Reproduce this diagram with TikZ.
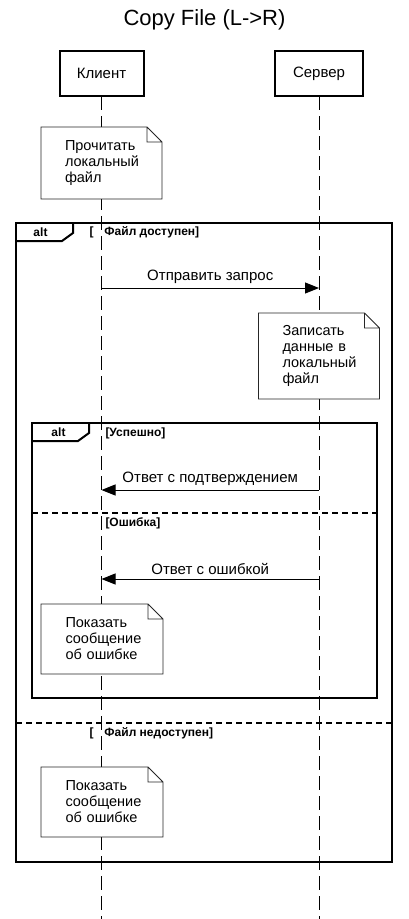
\documentclass[tikz,border=0pt]{standalone}
\usepackage{fontspec}
\setmainfont{Liberation Sans}
\usetikzlibrary{arrows.meta}

% folded-corner outline drawn around a note node
\newcommand\foldnote[1]{%
  \draw[noteline] (#1.north west) -- ([xshift=-15pt]#1.north east)
    -- ([yshift=-15pt]#1.north east) -- (#1.south east) -- (#1.south west) -- cycle
    ([xshift=-15pt]#1.north east) |- ([yshift=-15pt]#1.north east);}

\begin{document}
\begin{tikzpicture}[x=1pt,y=-1pt,
  every node/.style={inner sep=0pt, outer sep=0pt},
  participant/.style={draw, line width=2pt, minimum height=45pt, font=\fontsize{15}{17}\selectfont},
  lifeline/.style={line width=1pt, dash pattern=on 14pt off 6pt},
  message/.style={line width=1pt, -{Triangle[length=14pt,width=11pt]}},
  msglabel/.style={font=\fontsize{15}{17}\selectfont},
  notebox/.style={fill=white, minimum width=121pt, text width=73pt, inner xsep=24pt,
    inner ysep=0pt, align=left, font=\fontsize{14.5}{16}\selectfont},
  noteline/.style={line width=0.8pt, black!85},
  frame/.style={line width=2pt},
  separator/.style={line width=2pt, dash pattern=on 6pt off 4pt},
  guard/.style={font=\fontsize{12}{14}\selectfont\bfseries, anchor=west},
  optag/.style={font=\fontsize{12}{14}\selectfont\bfseries},
]
\useasboundingbox (0,0) rectangle (409,919);

% title
\node[font=\fontsize{22}{26}\selectfont, anchor=base] (title) at (204.5,25) {Copy File (L->R)};

% participants and lifelines
\node[participant, minimum width=84pt] (client) at (101.5,73.5) {Клиент};
\node[participant, minimum width=88pt] (server) at (319,73.5) {Сервер};
\coordinate (clientend) at (101.5,919);
\coordinate (serverend) at (319,919);
\draw[lifeline] (client.south) -- (clientend);
\draw[lifeline] (server.south) -- (serverend);

% note: read local file
\node[notebox, minimum height=72pt] (readnote) at (101.5,163) {Прочитать\\локальный\\файл};
\foldnote{readnote}

% outer alt fragment
\draw[frame] (16,223) rectangle (392,862);
\draw[frame] (16,241) -- (62,241) -- (73,233) -- (73,223);
\node[optag] (altouter) at (40.5,232) {alt};
\node[guard] (guardyes) at (89.5,232) {[\hspace{11pt}Файл доступен]};

% request message
\coordinate (reqfrom) at (101.5,288);
\coordinate (reqto) at (319,288);
\draw[message] (reqfrom) -- node[msglabel, midway, above=4pt] (reqlabel) {Отправить запрос} (reqto);

% note: write data
\node[notebox, minimum height=86pt, minimum width=120pt] (writenote) at (319,356) {Записать\\данные в\\локальный\\файл};
\foldnote{writenote}

% inner alt fragment
\draw[frame] (32,423) rectangle (377,698);
\draw[frame] (32,441) -- (78,441) -- (89,433) -- (89,423);
\node[optag] (altinner) at (58.5,432) {alt};
\node[guard] (guardok) at (105.5,433) {[Успешно]};

\coordinate (ackfrom) at (319,490);
\coordinate (ackto) at (101.5,490);
\draw[message] (ackfrom) -- node[msglabel, midway, above=4pt] (acklabel) {Ответ с подтверждением} (ackto);

\draw[separator] (32,513) -- (377,513);
\node[guard] (guarderr) at (105.5,523) {[Ошибка]};

\coordinate (errfrom) at (319,579);
\coordinate (errto) at (101.5,579);
\draw[message] (errfrom) -- node[msglabel, midway, above=4pt] (errlabel) {Ответ с ошибкой} (errto);

\node[notebox, minimum height=70pt, minimum width=122pt] (errnote) at (102,639) {Показать\\сообщение\\об ошибке};
\foldnote{errnote}

% else branch of outer fragment
\draw[separator] (16,723) -- (392,723);
\node[guard] (guardno) at (89.5,733) {[\hspace{11pt}Файл недоступен]};

\node[notebox, minimum height=70pt, minimum width=122pt] (missnote) at (102,802) {Показать\\сообщение\\об ошибке};
\foldnote{missnote}
\end{tikzpicture}
\end{document}
